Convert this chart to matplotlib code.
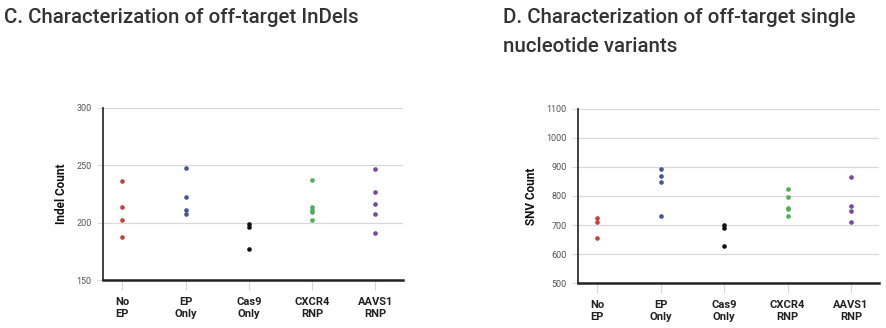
import matplotlib
matplotlib.use("Agg")
import matplotlib.pyplot as plt

categories = ["No\nEP", "EP\nOnly", "Cas9\nOnly", "CXCR4\nRNP", "AAVS1\nRNP"]
colors = ["#c9403c", "#46559a", "#111111", "#4caf55", "#7d4799"]

indel_no_ep = [236, 214, 202.5, 187.5]
indel_ep_only = [247.5, 222.5, 211.5, 208]
indel_cas9_only = [198.5, 196, 177]
indel_cxcr4 = [237.5, 213.5, 211.5, 209.5, 202]
indel_aavs1 = [246.5, 226.5, 216.5, 208, 191]

snv_no_ep = [724, 710, 655]
snv_ep_only = [892, 869, 847, 731]
snv_cas9_only = [701, 690, 627]
snv_cxcr4 = [823, 796, 758, 754, 730]
snv_aavs1 = [867, 765, 747, 709]

indel_ticks = [150, 200, 250, 300]
snv_ticks = [500, 600, 700, 800, 900, 1000, 1100]

indel_groups = [indel_no_ep, indel_ep_only, indel_cas9_only, indel_cxcr4, indel_aavs1]
snv_groups = [snv_no_ep, snv_ep_only, snv_cas9_only, snv_cxcr4, snv_aavs1]

cond = ["Roboto", "DejaVu Sans"]

fig = plt.figure(figsize=(8.86, 3.28), dpi=100)

def draw(ax, groups, ticks, ylabel):
    for i, (vals, c) in enumerate(zip(groups, colors)):
        ax.scatter([i] * len(vals), vals, s=11, color=c, zorder=3, linewidths=0)
    ax.set_ylim(ticks[0], ticks[-1])
    ax.set_yticks(ticks)
    ax.set_xlim(-0.31, 4.44)
    ax.set_xticks(range(len(categories)))
    ax.set_xticklabels(categories, fontsize=8, fontweight="bold", family=cond,
                       color="#222222", linespacing=1.25)
    for lab in ax.get_yticklabels():
        lab.set_family(cond)
        lab.set_fontsize(6.5)
        lab.set_color("#555555")
    ax.grid(axis="y", color="#d9d9d9", linewidth=0.9, zorder=0)
    ax.tick_params(axis="y", length=4, color="#d9d9d9", pad=4)
    ax.tick_params(axis="x", length=7, color="#d9d9d9", pad=5)
    for s in ["top", "right"]:
        ax.spines[s].set_visible(False)
    ax.spines["left"].set_color("#333333")
    ax.spines["left"].set_linewidth(1.3)
    ax.spines["bottom"].set_color("#222222")
    ax.spines["bottom"].set_linewidth(1.8)
    ax.set_ylabel(ylabel, fontsize=8.5, fontweight="bold", family=cond,
                  color="#111111", labelpad=6)

ax1 = fig.add_axes([0.116, 0.146, 0.339, 0.525])
draw(ax1, indel_groups, indel_ticks, "Indel Count")
ax2 = fig.add_axes([0.652, 0.137, 0.340, 0.531])
draw(ax2, snv_groups, snv_ticks, "SNV Count")

tfont = dict(fontsize=14.8, family=["Roboto", "DejaVu Sans"], fontweight="medium",
             color="#333333", va="baseline", ha="left")
fig.text(0.004, 1 - 23 / 328, "C. Characterization of off-target InDels", **tfont)
fig.text(0.568, 1 - 23 / 328, "D. Characterization of off-target single", **tfont)
fig.text(0.568, 1 - 52 / 328, "nucleotide variants", **tfont)

fig.savefig("out.png", dpi=100)
